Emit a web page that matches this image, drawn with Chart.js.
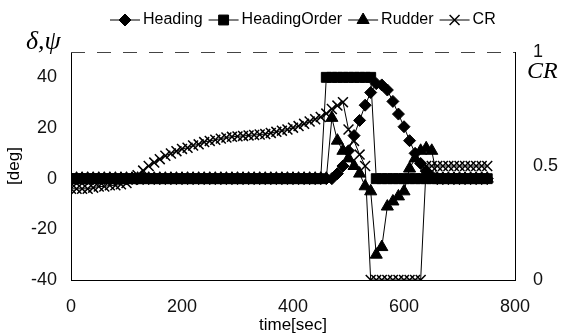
<!DOCTYPE html>
<html>
<head>
<meta charset="utf-8">
<script src="https://cdn.jsdelivr.net/npm/chart.js@4.4.0/dist/chart.umd.min.js"></script>
<style>
html, body { margin: 0; padding: 0; background: #fff; }
canvas { display: block; }
</style>
</head>
<body>
<canvas id="chart" width="565" height="336"></canvas>
<script>
// time [sec], one sample every 10 s
const time = [0,10,20,30,40,50,60,70,80,90,100,110,120,130,140,150,160,170,180,190,
  200,210,220,230,240,250,260,270,280,290,300,310,320,330,340,350,360,370,380,390,
  400,410,420,430,440,450,460,470,480,490,500,510,520,530,540,550,560,570,580,590,
  600,610,620,630,640,650,660,670,680,690,700,710,720,730,740,750];

// [deg]
const heading = [0,0,0,0,0,0,0,0,0,0,0,0,0,0,0,0,0,0,0,0,
  0,0,0,0,0,0,0,0,0,0,0,0,0,0,0,0,0,0,0,0,
  0,0,0,0,0,0,0,0,2,5,11,17,23,29,34,37.5,37,35,30.5,25.5,
  20.5,15,10,6,3,1,0,0,0,0,0,0,0,0,0,0];
const headingOrder = [0,0,0,0,0,0,0,0,0,0,0,0,0,0,0,0,0,0,0,0,
  0,0,0,0,0,0,0,0,0,0,0,0,0,0,0,0,0,0,0,0,
  0,0,0,0,0,0,40,40,40,40,40,40,40,40,40,0,0,0,0,0,
  0,0,0,0,0,0,0,0,0,0,0,0,0,0,0,0];
const rudder = [0,0,0,0,0,0,0,0,0,0,0,0,0,0,0,0,0,0,0,0,
  0,0,0,0,0,0,0,0,0,0,0,0,0,0,0,0,0,0,0,0,
  0,0,0,0,0,0,0,24,15,11,8,5,2,-3,-5,-30,-27,-11,-9,-7,
  -5,4,8,11,12,11,0,0,0,0,0,0,0,0,0,0];
// CR [-], right axis
const cr = [0.40,0.40,0.40,0.40,0.405,0.41,0.41,0.415,0.415,0.42,
  0.425,0.44,0.46,0.48,0.50,0.515,0.53,0.545,0.555,0.565,
  0.575,0.58,0.59,0.595,0.605,0.61,0.615,0.62,0.625,0.628,
  0.63,0.632,0.634,0.636,0.638,0.64,0.645,0.65,0.655,0.66,
  0.668,0.675,0.685,0.695,0.705,0.715,0.73,0.75,0.765,0.78,
  0.66,0.61,0.55,0.50,0,0,0,0,0,0,
  0,0,0,0,0.5,0.5,0.5,0.5,0.5,0.5,
  0.5,0.5,0.5,0.5,0.5,0.5];

const xTicks = [0, 200, 400, 600, 800];
const degTicks = [-40, -20, 0, 20, 40];
const crTicks = [0, 0.5, 1];

const pts = arr => time.map((t, i) => ({ x: t, y: arr[i] }));

const tickFont = { family: 'Liberation Sans', size: 18 };

const line = (label, arr, style, r, bw, axis, order) => ({
  label, data: pts(arr), yAxisID: axis, order,
  borderColor: '#000', backgroundColor: '#000', borderWidth: 1,
  pointStyle: style, pointRadius: r, pointBorderWidth: bw,
  pointBackgroundColor: '#000', pointBorderColor: '#000', tension: 0
});

// legend + loose titles drawn on the canvas
const textPlugin = {
  id: 'texts',
  afterDraw(chart) {
    const ctx = chart.ctx;
    const a = chart.chartArea;
    ctx.save();
    // top edge of the frame, broken like the original print
    ctx.strokeStyle = '#444';
    ctx.lineWidth = 1;
    ctx.setLineDash([14, 12]);
    ctx.beginPath();
    ctx.moveTo(a.left, a.top + 0.5);
    ctx.lineTo(a.right, a.top + 0.5);
    ctx.stroke();
    ctx.setLineDash([]);

    // legend
    ctx.font = '16px "Liberation Sans"';
    ctx.textBaseline = 'middle';
    ctx.fillStyle = '#000';
    ctx.strokeStyle = '#000';
    let x = 110;
    const ly = 20;
    chart.data.datasets.forEach(ds => {
      ctx.lineWidth = 1;
      ctx.beginPath();
      ctx.moveTo(x, ly);
      ctx.lineTo(x + 30, ly);
      ctx.stroke();
      ctx.lineWidth = ds.pointBorderWidth;
      Chart.helpers.drawPoint(ctx, { pointStyle: ds.pointStyle, radius: ds.pointRadius, borderWidth: ds.pointBorderWidth }, x + 15, ly);
      ctx.fillText(ds.label, x + 33, ly);
      x += 33 + ctx.measureText(ds.label).width + 6;
    });

    // axis symbols
    ctx.font = 'italic 26px "Liberation Serif"';
    ctx.textBaseline = 'alphabetic';
    ctx.textAlign = 'left';
    ctx.fillText('\u03b4,\u03c8', 26, 49);
    ctx.font = 'italic 24px "Liberation Serif"';
    ctx.fillText('CR', 527, 78);

    ctx.font = '17px "Liberation Sans"';
    ctx.textAlign = 'center';
    ctx.textBaseline = 'middle';
    ctx.fillText('time[sec]', (a.left + a.right) / 2, 325);
    ctx.translate(14, (a.top + a.bottom) / 2);
    ctx.rotate(-Math.PI / 2);
    ctx.fillText('[deg]', 0, 0);
    ctx.restore();
  }
};

new Chart(document.getElementById('chart'), {
  type: 'line',
  data: {
    datasets: [
      line('Heading', heading, 'rectRot', 6, 1, 'y', 3),
      line('HeadingOrder', headingOrder, 'rect', 7, 1, 'y', 2),
      line('Rudder', rudder, 'triangle', 7, 1, 'y', 1),
      line('CR', cr, 'crossRot', 7, 1.5, 'y2', 0)
    ]
  },
  options: {
    responsive: false,
    animation: false,
    layout: { padding: { top: 52, left: 0, right: 0, bottom: 0 } },
    plugins: { legend: { display: false }, tooltip: { enabled: false } },
    scales: {
      x: {
        type: 'linear', min: 0, max: 800,
        afterBuildTicks: s => { s.ticks = xTicks.map(v => ({ value: v })); },
        ticks: { font: tickFont, color: '#111', padding: 16, maxRotation: 0 },
        grid: { display: false, drawTicks: false },
        border: { display: true, color: '#000', width: 1 },
        afterFit: s => { s.height = 56; }
      },
      y: {
        position: 'left', min: -40, max: 50,
        afterBuildTicks: s => { s.ticks = degTicks.map(v => ({ value: v })); },
        ticks: { font: tickFont, color: '#111', padding: 14 },
        grid: { display: false, drawTicks: false },
        border: { display: true, color: '#000', width: 1 },
        afterFit: s => { s.width = 71; }
      },
      y2: {
        position: 'right', min: 0, max: 1,
        afterBuildTicks: s => { s.ticks = crTicks.map(v => ({ value: v })); },
        ticks: { font: tickFont, color: '#111', padding: 18, callback: v => String(v) },
        grid: { display: false, drawTicks: false },
        border: { display: true, color: '#000', width: 1 },
        afterFit: s => { s.width = 50; }
      }
    }
  },
  plugins: [textPlugin]
});
</script>
</body>
</html>
